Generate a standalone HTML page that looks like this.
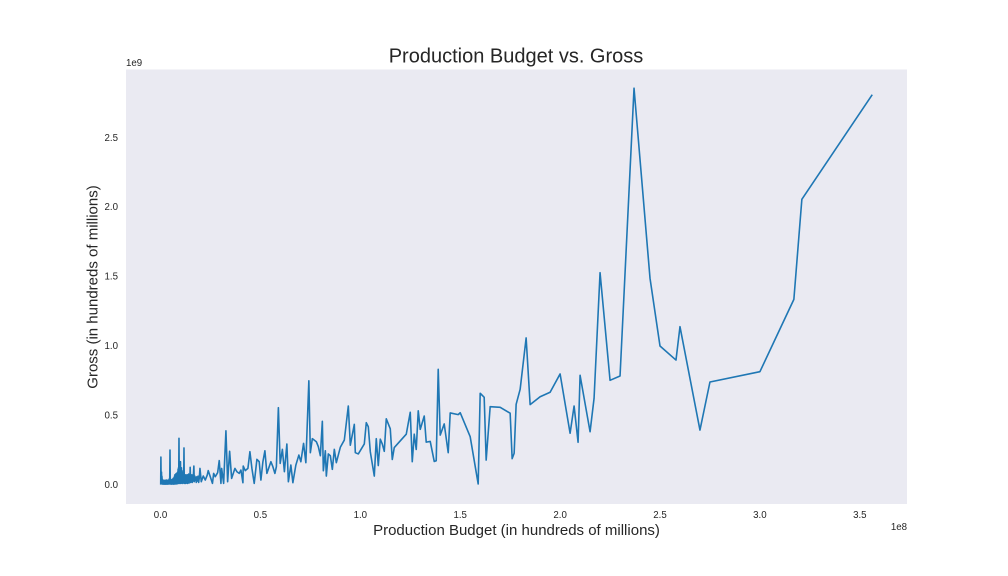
<!DOCTYPE html>
<html>
<head>
<meta charset="utf-8">
<style>
html,body{margin:0;padding:0;background:#fff;width:1008px;height:576px;overflow:hidden}
svg{display:block}
text{font-family:"Liberation Sans",Arial,sans-serif;fill:#262626}
</style>
</head>
<body>
<svg id="chart" xmlns="http://www.w3.org/2000/svg" width="1008" height="576" viewBox="0 0 1008 576">
  <rect x="0" y="0" width="1008" height="576" fill="#ffffff"/>
  <rect x="126" y="69.5" width="781" height="434.5" fill="#eaeaf2"/>
  <text x="516" y="62.5" font-size="20" text-anchor="middle">Production Budget vs. Gross</text>
  <text x="516.5" y="535" font-size="15" text-anchor="middle">Production Budget (in hundreds of millions)</text>
  <text transform="translate(97.5,287) rotate(-90)" font-size="15" text-anchor="middle">Gross (in hundreds of millions)</text>
  <text x="907" y="530" font-size="9.7" text-anchor="end">1e8</text>
  <text x="126" y="66" font-size="9.7">1e9</text>
  <g id="x-ticks"></g>
  <g id="y-ticks"></g>
  <polyline id="series" fill="none" stroke="#1f77b4" stroke-width="1.6" stroke-linejoin="round" stroke-linecap="square"/>
</svg>
<script>
// Production budget in millions of dollars
const budgets = [
0.1,0.2,0.3,0.5,0.6,0.7,0.8,0.9,1,1.1,
1.2,1.3,1.4,1.5,1.6,1.7,1.8,1.9,2,2.1,
2.2,2.3,2.4,2.5,2.6,2.7,2.8,2.9,3,3.1,
3.2,3.3,3.4,3.5,3.6,3.7,3.8,3.9,4,4.2,
4.4,4.6,4.75,4.9,5,5.1,5.2,5.3,5.4,5.5,
5.6,5.7,5.8,5.9,6,6.1,6.2,6.3,6.4,6.5,
6.6,6.7,6.8,6.9,7,7.1,7.2,7.3,7.4,7.5,
7.6,7.7,7.8,7.9,8,8.1,8.2,8.3,8.4,8.5,
8.6,8.7,8.8,8.9,9,9.1,9.25,9.4,9.5,9.6,
9.8,10,10.1,10.2,10.3,10.5,10.6,10.7,10.9,11,
11.2,11.4,11.6,11.75,11.9,12.1,12.2,12.4,12.5,12.7,
12.9,13,13.2,13.4,13.5,13.7,13.9,14.1,14.3,14.5,
14.7,14.85,15.1,15.3,15.5,15.7,15.9,16.1,16.3,16.7,
16.9,17.2,17.4,17.7,17.9,18.2,18.5,18.8,19.1,19.4,
19.75,
20.4,21.4,22.4,23.4,23.9,25,26,26.6,27.4,28.6,29.4,30.25,30.6,31.6,32.75,33.6,34.6,35.6,37.25,38.25,39.4,40.25,41.25,41.4,42.4,43.75,44.75,45.75,46.9,48.25,49.4,50.25,51.25,52.25,53.25,55.25,56.25,57.25,58,59,59.9,61,62,63.25,64,65.25,66.25,67.75,69.25,70.25,71.6,72.75,74.25,
75,76,78,79,80,81,81.5,82.5,83,84,85,86,87,88,90,92,94,95,97,97.5,99,102,103,104,105,107,108,109,110,111,112,113,115,116,117,123,125,126,127,128,129,130,132,133,135,137,138,139,
140,142,144,145,149,150,155,159,160,162,163,165,170,175,176,177,178,180,183,185,190,195,
200,205,207,209,210,215,217,220,225,230,237,245,250,258,260,270,275,300,317,321,356
];
// Worldwide gross in millions of dollars
const gross = [
5,198,60,90,5,60,40,5,35,3,
30,5,28,3,30,4,25,3,28,4,
30,2,25,5,30,3,26,4,32,3,
24,5,30,3,28,4,30,3,32,5,
40,4,248,4,30,5,25,3,28,4,
35,3,30,6,38,4,34,3,45,5,
40,3,50,5,60,6,70,4,55,8,
75,5,60,6,80,5,70,8,85,6,
90,10,110,8,120,10,333,8,100,10,
110,164,8,100,12,120,10,90,8,80,
15,100,10,263,8,70,12,60,8,70,
10,60,15,70,8,55,12,75,10,60,
20,124,15,60,25,70,15,60,25,133,
20,60,30,50,15,55,25,60,15,45,
116,
20,61,32,68,100,52,8,80,56,85,172,8,116,8,387,20,239,44,116,92,80,104,13,133,100,116,236,116,8,181,164,32,164,243,80,164,128,80,128,553,152,253,92,291,20,140,13,140,212,164,296,157,747,
229,330,308,272,207,455,99,243,61,220,207,109,253,157,268,320,565,283,433,229,220,292,445,416,236,61,330,136,326,292,239,473,401,180,266,362,520,164,362,252,531,397,493,305,310,166,171,829,
356,436,229,515,503,517,344,4,657,628,176,560,556,513,186,225,577,685,1055,575,632,664,
796,369,565,304,786,380,621,1525,750,781,2853,1485,997,896,1136,392,738,812,1333,2053,2802
];
// Axis tick values and labels
const xTickValues = [0,50,100,150,200,250,300,350];
const xTickLabels = ["0.0","0.5","1.0","1.5","2.0","2.5","3.0","3.5"];
const yTickValues = [0,500,1000,1500,2000,2500];
const yTickLabels = ["0.0","0.5","1.0","1.5","2.0","2.5"];

function xScale(v){ return 160.5 + v * 1.998; }
function yScale(v){ return 484.5 - v * 0.1389; }

const NS = "http://www.w3.org/2000/svg";
const xGroup = document.getElementById("x-ticks");
xTickValues.forEach(function(v,i){
  const t = document.createElementNS(NS,"text");
  
  
  t.setAttribute("x", xScale(v));
  t.setAttribute("y", 518);
  t.setAttribute("font-size", "9.7");
  t.setAttribute("text-anchor", "middle");
  t.textContent = xTickLabels[i];
  xGroup.appendChild(t);
});
const yGroup = document.getElementById("y-ticks");
yTickValues.forEach(function(v,i){
  const t = document.createElementNS(NS,"text");
  
  
  t.setAttribute("x", 118);
  t.setAttribute("y", yScale(v) + 3.5);
  t.setAttribute("font-size", "9.7");
  t.setAttribute("text-anchor", "end");
  t.textContent = yTickLabels[i];
  yGroup.appendChild(t);
});
const pts = budgets.map(function(b,i){
  return xScale(b).toFixed(2) + "," + yScale(gross[i]).toFixed(2);
});
document.getElementById("series").setAttribute("points", pts.join(" "));
</script>
</body>
</html>
